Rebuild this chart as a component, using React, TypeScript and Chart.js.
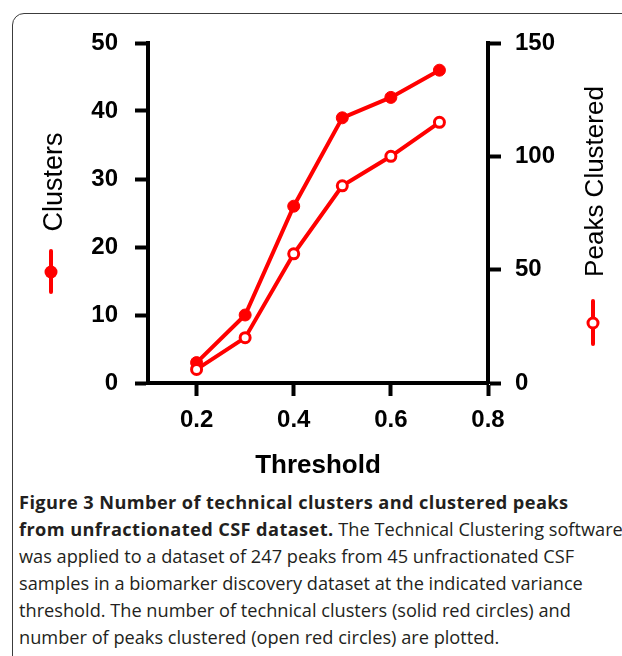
import React, { useEffect, useRef } from "react";
import { Chart, registerables } from "chart.js";

Chart.register(...registerables);

// ---- data ----
const thresholds = [0.2, 0.3, 0.4, 0.5, 0.6, 0.7];
const clusters = [3, 10, 26, 39, 42, 46];
const peaksClustered = [6, 20, 57, 87, 100, 115];
const xTicks = [0.2, 0.4, 0.6, 0.8];
const leftTicks = [0, 10, 20, 30, 40, 50];
const rightTicks = [0, 50, 100, 150];
const xTitle = "Threshold";
const leftTitle = "Clusters";
const rightTitle = "Peaks Clustered";

const RED = "#ff0000";
const FONT = "'Liberation Sans', Arial, Helvetica, sans-serif";

const titlesPlugin = {
  id: "titlesPlugin",
  afterDraw(chart: any) {
    const ctx = chart.ctx;
    ctx.save();
    ctx.fillStyle = "#000";
    // x title
    ctx.font = `bold 26px ${FONT}`;
    ctx.textAlign = "center";
    ctx.textBaseline = "alphabetic";
    ctx.fillText(xTitle, 318, 473);
    // left title
    ctx.save();
    ctx.translate(62, 182);
    ctx.rotate(-Math.PI / 2);
    ctx.font = `27px ${FONT}`;
    ctx.fillText(leftTitle, 0, 0);
    ctx.restore();
    // right title
    ctx.save();
    ctx.translate(603, 181.5);
    ctx.rotate(-Math.PI / 2);
    ctx.font = `26px ${FONT}`;
    ctx.fillText(rightTitle, 0, 0);
    ctx.restore();
    // legend symbols
    ctx.strokeStyle = RED;
    ctx.lineWidth = 4;
    ctx.lineCap = "round";
    ctx.beginPath();
    ctx.moveTo(51, 251);
    ctx.lineTo(51, 292);
    ctx.stroke();
    ctx.fillStyle = RED;
    ctx.beginPath();
    ctx.arc(51, 272, 6.5, 0, Math.PI * 2);
    ctx.fill();

    ctx.beginPath();
    ctx.moveTo(593, 301);
    ctx.lineTo(593, 344);
    ctx.stroke();
    ctx.fillStyle = "#fff";
    ctx.lineWidth = 3;
    ctx.beginPath();
    ctx.arc(593, 323, 5, 0, Math.PI * 2);
    ctx.fill();
    ctx.stroke();
    ctx.restore();
  },
};

function ChartView() {
  const ref = useRef<HTMLCanvasElement>(null);
  useEffect(() => {
    if (!ref.current) return;
    const axisCommon = {
      border: { display: true, width: 4, color: "#000" },
      grid: {
        drawOnChartArea: false,
        drawTicks: true,
        tickLength: 13,
        tickWidth: 4,
        tickColor: "#000",
      },
    };
    const chart = new Chart(ref.current, {
      type: "line",
      data: {
        datasets: [
          {
            label: rightTitle,
            yAxisID: "y1",
            data: thresholds.map((t, i) => ({ x: t, y: peaksClustered[i] })),
            borderColor: RED,
            borderWidth: 4,
            pointRadius: 5,
            pointBorderWidth: 3,
            pointBackgroundColor: "#fff",
            pointBorderColor: RED,
            order: 0,
            clip: false,
          },
          {
            label: leftTitle,
            yAxisID: "y",
            data: thresholds.map((t, i) => ({ x: t, y: clusters[i] })),
            borderColor: RED,
            borderWidth: 4,
            pointRadius: 6,
            pointBorderWidth: 1,
            pointBackgroundColor: RED,
            pointBorderColor: RED,
            order: 1,
            clip: false,
          },
        ],
      },
      options: {
        animation: false,
        responsive: false,
        maintainAspectRatio: false,
        layout: { padding: { top: 43, left: 0, right: 0, bottom: 0 } },
        plugins: { legend: { display: false }, tooltip: { enabled: false } },
        scales: {
          x: {
            type: "linear",
            position: "bottom",
            min: 0.1,
            max: 0.8,
            ...axisCommon,
            afterBuildTicks: (s: any) => {
              s.ticks = xTicks.map((v) => ({ value: v }));
            },
            afterFit: (s: any) => {
              s.height = 97;
            },
            ticks: {
              padding: 10,
              color: "#000",
              font: { family: FONT, size: 24, weight: "bold" },
              callback: (v: any) => Number(v).toFixed(1),
            },
          },
          y: {
            type: "linear",
            position: "left",
            min: 0,
            max: 50,
            ...axisCommon,
            afterBuildTicks: (s: any) => {
              s.ticks = leftTicks.map((v) => ({ value: v }));
            },
            afterFit: (s: any) => {
              s.width = 148;
            },
            ticks: {
              padding: 17,
              color: "#000",
              font: { family: FONT, size: 24, weight: "bold" },
            },
          },
          y1: {
            type: "linear",
            position: "right",
            min: 0,
            max: 150,
            ...axisCommon,
            afterBuildTicks: (s: any) => {
              s.ticks = rightTicks.map((v) => ({ value: v }));
            },
            afterFit: (s: any) => {
              s.width = 134;
            },
            ticks: {
              padding: 14,
              color: "#000",
              font: { family: FONT, size: 24, weight: "bold" },
            },
          },
        },
      },
      plugins: [titlesPlugin],
    } as any);
    return () => chart.destroy();
  }, []);
  return (
    <canvas
      ref={ref}
      width={622}
      height={480}
      style={{ position: "absolute", left: 0, top: 0, width: 622, height: 480 }}
    />
  );
}

const boldStyle = { fontWeight: 700, letterSpacing: "0.4px" } as const;

export default function App() {
  return (
    <div
      style={{
        position: "fixed",
        left: 0,
        top: 0,
        width: 622,
        height: 656,
        overflow: "hidden",
        background: "#fff",
      }}
    >
      <div
        style={{
          position: "absolute",
          left: 12,
          top: 13,
          width: 800,
          height: 800,
          border: "1.5px solid #3c3c3c",
          borderRadius: 12,
          boxSizing: "border-box",
        }}
      />
      <ChartView />
      <div
        style={{
          position: "absolute",
          left: 19,
          top: 489,
          fontFamily: "'Open Sans', sans-serif",
          fontSize: 18.2,
          lineHeight: "27px",
          color: "#231f20",
          whiteSpace: "nowrap",
        }}
      >
        <b style={boldStyle}>
          Figure 3 Number of technical clusters and clustered peaks
        </b>
        <br />
        <b style={boldStyle}>from unfractionated CSF dataset.</b> The
        Technical Clustering software
        <br />
        was applied to a dataset of 247 peaks from 45 unfractionated CSF
        <br />
        samples in a biomarker discovery dataset at the indicated variance
        <br />
        threshold. The number of technical clusters (solid red circles) and
        <br />
        number of peaks clustered (open red circles) are plotted.
      </div>
    </div>
  );
}
